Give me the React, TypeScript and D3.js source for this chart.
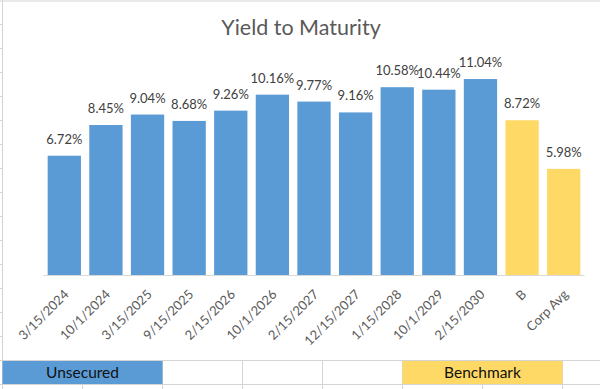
import React from "react";
import * as d3 from "d3";

const categories = [
	"3/15/2024",
	"10/1/2024",
	"3/15/2025",
	"9/15/2025",
	"2/15/2026",
	"10/1/2026",
	"2/15/2027",
	"12/15/2027",
	"1/15/2028",
	"10/1/2029",
	"2/15/2030",
	"B",
	"Corp Avg",
];
const yields = [6.72, 8.45, 9.04, 8.68, 9.26, 10.16, 9.77, 9.16, 10.58, 10.44, 11.04, 8.72, 5.98];
const groups = [
	"Unsecured", "Unsecured", "Unsecured", "Unsecured", "Unsecured", "Unsecured",
	"Unsecured", "Unsecured", "Unsecured", "Unsecured", "Unsecured", "Benchmark", "Benchmark",
];
const legendCells = [
	{label: "Unsecured", fromCol: 0, toCol: 2},
	{label: "Benchmark", fromCol: 5, toCol: 7},
];

const W = 600;
const H = 389;
const FONT = "Lato, 'Open Sans', sans-serif";

const colors: Record<string, string> = {Unsecured: "#5b9bd5", Benchmark: "#ffd966"};

const App: React.FC = () => {
	const x = d3
		.scaleBand<string>()
		.domain(categories)
		.range([43.5, 584.5])
		.paddingInner(0.2)
		.paddingOuter(0.1);
	const y = d3.scaleLinear().domain([0, 12]).range([275, 62]);
	const fmt = (v: number) => v.toFixed(2) + "%";

	// spreadsheet grid behind the chart object
	const rowH = 24;
	const colW = 80;
	const colX = (i: number) => 2.5 + i * colW;
	const rows = d3.range(1, 17).map((i) => i * rowH);
	const cols = d3.range(0, 8).map(colX);

	return (
		<svg
			width={W}
			height={H}
			style={{position: "absolute", left: 0, top: 0, background: "#fff"}}
		>
			{/* grid: left row-header edge and top border */}
			<line x1={0} x2={W} y1={1} y2={1} stroke="#d4d4d4" />
			<line x1={2.5} x2={2.5} y1={0} y2={H} stroke="#d4d4d4" />
			{rows.map((r) => (
				<line key={"t" + r} x1={0} x2={2.5} y1={r + 0.5} y2={r + 0.5} stroke="#d4d4d4" />
			))}
			{/* bottom rows of cells */}
			{[360, 384].map((r) => (
				<line key={"r" + r} x1={0} x2={W} y1={r + 0.5} y2={r + 0.5} stroke="#d4d4d4" />
			))}
			{cols.map((c) => (
				<line key={"c" + c} x1={c} x2={c} y1={360} y2={H} stroke="#d4d4d4" />
			))}
			{legendCells.map((l) => (
				<g key={l.label}>
					<rect
						x={colX(l.fromCol)}
						y={361}
						width={colX(l.toCol) - colX(l.fromCol)}
						height={23}
						fill={colors[l.label]}
					/>
					<text
						x={(colX(l.fromCol) + colX(l.toCol)) / 2}
						y={378}
						textAnchor="middle"
						fontFamily={FONT}
						fontSize={15.5}
						fill="#111"
					>
						{l.label}
					</text>
				</g>
			))}

			{/* title */}
			<text
				x={301}
				y={35}
				textAnchor="middle"
				fontFamily={FONT}
				fontSize={21.5}
				fill="#595959"
			>
				Yield to Maturity
			</text>

			{/* bars */}
			{categories.map((c, i) => (
				<rect
					key={c}
					x={x(c)}
					y={y(yields[i])}
					width={x.bandwidth()}
					height={y(0) - y(yields[i])}
					fill={colors[groups[i]]}
				/>
			))}

			{/* baseline */}
			<line x1={43.5} x2={584.5} y1={275.5} y2={275.5} stroke="#d9d9d9" />

			{/* data labels */}
			{categories.map((c, i) => (
				<text
					key={"v" + c}
					x={(x(c) || 0) + x.bandwidth() / 2}
					y={y(yields[i]) - 12}
					textAnchor="middle"
					fontFamily={FONT}
					fontSize={13}
					fill="#404040"
				>
					{fmt(yields[i])}
				</text>
			))}

			{/* category labels */}
			{categories.map((c) => (
				<text
					key={"x" + c}
					transform={`translate(${(x(c) || 0) + x.bandwidth() / 2 + 2}, 292) rotate(-45)`}
					textAnchor="end"
					dy="0.35em"
					fontFamily={FONT}
					fontSize={13}
					fill="#595959"
				>
					{c}
				</text>
			))}
		</svg>
	);
};

export default App;
